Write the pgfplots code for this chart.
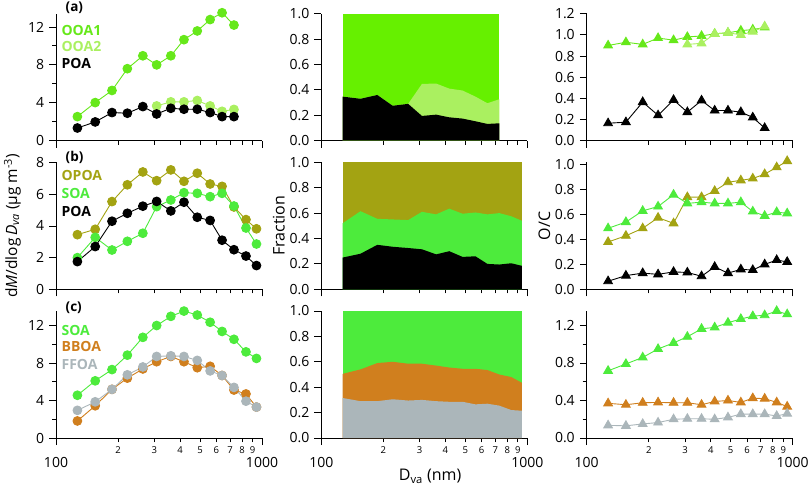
\documentclass[border=0pt]{standalone}
\usepackage{fontspec}
\setmainfont{Open Sans}
\usepackage{pgfplots}
\usepackage{pgfplotstable}
\pgfplotsset{compat=1.18}

\definecolor{ooaone}{HTML}{66E81A}
\definecolor{ooatwo}{HTML}{AAF060}
\definecolor{soa}{HTML}{4DEB3C}
\definecolor{opoa}{HTML}{A3A312}
\definecolor{bboa}{HTML}{D07F1E}
\definecolor{ffoa}{HTML}{ABB6BA}
\definecolor{fracone}{HTML}{66F000}

% panel (a)
\pgfplotstableread{
x OOA1 OOA2 POA
127 2.54 nan 1.34
155 4.02 nan 1.98
187 5.30 nan 2.97
222 7.60 nan 2.90
264 8.96 nan 3.60
308 8.00 3.67 2.82
361 8.96 4.10 3.42
418 10.66 4.10 3.32
485 11.58 4.24 3.32
560 12.78 3.67 2.97
640 13.50 3.10 2.54
731 12.20 3.30 2.54
}\ma
\pgfplotstableread{
x poa top
127 0.347 0.347
155 0.330 0.330
187 0.360 0.360
222 0.275 0.275
264 0.290 0.290
308 0.195 0.447
361 0.205 0.450
418 0.184 0.410
485 0.174 0.395
560 0.153 0.347
640 0.132 0.295
731 0.137 0.326
}\fa
\pgfplotstableread{
x OOA1 OOA2 POA
127 0.90 nan 0.165
155 0.93 nan 0.175
187 0.91 nan 0.365
222 0.97 nan 0.240
264 0.95 nan 0.385
308 0.98 0.91 0.270
361 0.99 0.92 0.380
418 1.01 1.01 0.285
485 1.02 1.02 0.285
560 1.04 1.00 0.270
640 1.05 1.03 0.220
731 1.07 1.08 0.120
}\oa

% panel (b)
\pgfplotstableread{
x OPOA SOA POA
127 3.45 2.00 1.75
155 3.79 3.28 2.70
187 5.54 2.48 4.30
222 6.60 3.03 4.80
264 7.41 3.54 5.25
308 6.86 5.22 5.55
361 7.54 5.64 4.95
418 6.82 6.10 5.50
485 7.33 6.06 4.55
560 6.65 5.85 4.35
640 6.50 6.06 3.10
731 5.20 5.26 2.50
836 4.40 3.87 2.10
940 3.82 2.86 1.50
}\mb
\pgfplotstableread{
x poa top
127 0.250 0.520
155 0.280 0.615
187 0.350 0.555
222 0.335 0.550
264 0.325 0.545
308 0.315 0.610
361 0.275 0.590
418 0.300 0.635
485 0.255 0.595
560 0.260 0.605
640 0.200 0.590
731 0.195 0.600
836 0.205 0.575
940 0.185 0.540
}\fb
\pgfplotstableread{
x OPOA SOA POA
127 0.380 0.490 0.065
155 0.430 0.540 0.110
187 0.490 0.630 0.130
222 0.575 0.665 0.120
264 0.530 0.760 0.140
308 0.740 0.690 0.135
361 0.740 0.700 0.105
418 0.790 0.690 0.180
485 0.860 0.690 0.130
560 0.875 0.700 0.160
640 0.890 0.625 0.155
731 0.925 0.590 0.200
836 0.980 0.620 0.235
940 1.030 0.610 0.220
}\ob

% panel (c)
\pgfplotstableread{
x SOA BBOA FFOA
127 4.56 1.82 2.95
155 6.10 3.44 3.86
187 7.30 5.19 5.19
222 8.84 6.39 6.74
264 10.74 7.37 7.58
308 12.00 8.14 8.70
361 12.98 8.70 8.77
418 13.54 8.14 8.70
485 13.12 7.50 8.28
560 12.35 7.65 7.16
640 11.37 6.67 6.67
731 10.53 5.12 5.40
836 9.19 4.70 3.93
940 8.49 3.30 3.30
}\mc
\pgfplotstableread{
x ffoa top
127 0.315 0.505
155 0.290 0.540
187 0.290 0.590
222 0.305 0.600
264 0.295 0.585
308 0.300 0.585
361 0.290 0.570
418 0.285 0.555
485 0.285 0.545
560 0.265 0.545
640 0.270 0.535
731 0.255 0.500
836 0.220 0.480
940 0.215 0.435
}\fc
\pgfplotstableread{
x SOA BBOA FFOA
127 0.717 0.370 0.135
155 0.790 0.355 0.130
187 0.860 0.376 0.150
222 0.950 0.380 0.165
264 1.015 0.376 0.200
308 1.080 0.376 0.205
361 1.165 0.355 0.205
418 1.180 0.390 0.200
485 1.230 0.400 0.220
560 1.270 0.380 0.255
640 1.300 0.425 0.255
731 1.310 0.420 0.255
836 1.355 0.380 0.235
940 1.320 0.335 0.260
}\oc

\pgfplotsset{
  myigor/.style={
    scale only axis, width=206pt, height=127pt,
    xmin=100, xmax=1000, ymin=0,
    axis x line*=bottom, axis y line*=left,
    axis line style={black, line width=0.9pt},
    tick align=outside,
    major tick length=7pt, minor tick length=4pt,
    tick style={black, line width=0.9pt},
    xtick={100,1000},
    minor xtick={200,300,400,500,600,700,800,900},
    xticklabels={,},
    tick label style={font=\fontsize{14}{16}\selectfont},
    yticklabel style={xshift=-1.5pt},
    clip=false,
    anchor=south west,
  },
  mybot/.style={
    xticklabels={100,1000},
    xticklabel style={yshift=-9pt},
    extra x ticks={200,300,400,500,600,700,800,900},
    extra x tick labels={2,3,4,5,6,7,8,9},
    extra x tick style={major tick length=4pt,
      xticklabel style={font=\fontsize{9.5}{11}\selectfont, yshift=8pt}},
  },
  myonedec/.style={yticklabel style={/pgf/number format/.cd, fixed, fixed zerofill, precision=1, assume math mode=true}},
  myser/.style={color=#1, line width=0.9pt, mark=*, mark size=4.4pt,
    mark options={fill=#1, draw=#1, solid}},
  mytri/.style={color=#1, line width=0.9pt, mark=triangle*, mark size=5pt,
    mark options={fill=#1, draw=#1, solid}},
}
\tikzset{
  mylab/.style={font=\bfseries\fontsize{13.5}{15}\selectfont, anchor=west},
  myleg/.style={font=\bfseries\fontsize{14}{16}\selectfont, anchor=west, text=#1},
}

\begin{document}
\begin{tikzpicture}
\useasboundingbox (0,0) rectangle (810pt,488pt);

% ---------- row a ----------
\begin{semilogxaxis}[myigor, at={(56pt,347.3pt)}, ymax=13.4, ytick={0,4,8,12}, minor ytick={2,6,10},
  yticklabel style={/pgf/number format/assume math mode=true}]
\addplot[myser=ooaone] table[x=x,y=OOA1]{\ma};
\addplot[myser=ooatwo] table[x=x,y=OOA2]{\ma};
\addplot[myser=black] table[x=x,y=POA]{\ma};
\node[mylab] at (axis description cs:0.03,1.047) {(a)};
\node[myleg=ooaone] at (axis description cs:0.01,0.866) {OOA1};
\node[myleg=ooatwo] at (axis description cs:0.01,0.740) {OOA2};
\node[myleg=black] at (axis description cs:0.01,0.605) {POA};
\end{semilogxaxis}

\begin{semilogxaxis}[myigor, myonedec, at={(321.3pt,347.3pt)}, ymax=1, ytick={0,0.2,0.4,0.6,0.8,1.0}]
\addplot[fill=fracone, draw=none] coordinates {(127,1) (731,1)} \closedcycle;
\addplot[fill=ooatwo, draw=none] table[x=x,y=top]{\fa} \closedcycle;
\addplot[fill=black, draw=none] table[x=x,y=poa]{\fa} \closedcycle;
\end{semilogxaxis}

\begin{semilogxaxis}[myigor, myonedec, at={(586.7pt,347.3pt)}, ymax=1.2, ytick={0,0.2,0.4,0.6,0.8,1.0,1.2}]
\addplot[mytri=ooaone] table[x=x,y=OOA1]{\oa};
\addplot[mytri=ooatwo] table[x=x,y=OOA2]{\oa};
\addplot[mytri=black] table[x=x,y=POA]{\oa};
\end{semilogxaxis}

% ---------- row b ----------
\begin{semilogxaxis}[myigor, at={(56pt,198.7pt)}, ymax=8.02, ytick={0,2,4,6,8},
  yticklabel style={/pgf/number format/assume math mode=true},
  ylabel={d\textit{M}/dlog\,\textit{D}\textsubscript{\textit{va}} (μg m\textsuperscript{-3})},
  ylabel style={at={(axis description cs:-0.212,0.5)}, anchor=center, font=\fontsize{15.5}{18}\selectfont}]
\addplot[myser=opoa] table[x=x,y=OPOA]{\mb};
\addplot[myser=soa] table[x=x,y=SOA]{\mb};
\addplot[myser=black] table[x=x,y=POA]{\mb};
\node[mylab] at (axis description cs:0.03,1.035) {(b)};
\node[myleg=opoa] at (axis description cs:0.01,0.90) {OPOA};
\node[myleg=soa] at (axis description cs:0.01,0.753) {SOA};
\node[myleg=black] at (axis description cs:0.01,0.616) {POA};
\end{semilogxaxis}

\begin{semilogxaxis}[myigor, myonedec, at={(321.3pt,198.7pt)}, ymax=1, ytick={0,0.2,0.4,0.6,0.8,1.0},
  ylabel={Fraction},
  ylabel style={at={(axis description cs:-0.206,0.5)}, anchor=center, font=\fontsize{16}{18}\selectfont}]
\addplot[fill=opoa, draw=none] coordinates {(127,1) (940,1)} \closedcycle;
\addplot[fill=soa, draw=none] table[x=x,y=top]{\fb} \closedcycle;
\addplot[fill=black, draw=none] table[x=x,y=poa]{\fb} \closedcycle;
\end{semilogxaxis}

\begin{semilogxaxis}[myigor, myonedec, at={(586.7pt,198.7pt)}, ymax=1.02, ytick={0,0.2,0.4,0.6,0.8,1.0},
  ylabel={O/C},
  ylabel style={at={(axis description cs:-0.205,0.5)}, anchor=center, font=\fontsize{16}{18}\selectfont}]
\addplot[mytri=opoa] table[x=x,y=OPOA]{\ob};
\addplot[mytri=soa] table[x=x,y=SOA]{\ob};
\addplot[mytri=black] table[x=x,y=POA]{\ob};
\end{semilogxaxis}

% ---------- row c ----------
\begin{semilogxaxis}[myigor, mybot, at={(56pt,50pt)}, ymax=13.55, ytick={0,4,8,12}, minor ytick={2,6,10},
  yticklabel style={/pgf/number format/assume math mode=true}]
\addplot[myser=soa] table[x=x,y=SOA]{\mc};
\addplot[myser=bboa] table[x=x,y=BBOA]{\mc};
\addplot[myser=ffoa] table[x=x,y=FFOA]{\mc};
\node[mylab] at (axis description cs:0.03,1.027) {(c)};
\node[myleg=soa] at (axis description cs:0.01,0.848) {SOA};
\node[myleg=bboa] at (axis description cs:0.01,0.717) {BBOA};
\node[myleg=ffoa] at (axis description cs:0.01,0.581) {FFOA};
\end{semilogxaxis}

\begin{semilogxaxis}[myigor, mybot, myonedec, at={(321.3pt,50pt)}, ymax=1, ytick={0,0.2,0.4,0.6,0.8,1.0},
  xlabel={D\textsubscript{va} (nm)},
  xlabel style={at={(axis description cs:0.528,-0.304)}, anchor=center, font=\fontsize{16}{18}\selectfont}]
\addplot[fill=soa, draw=none] coordinates {(127,1) (940,1)} \closedcycle;
\addplot[fill=bboa, draw=none] table[x=x,y=top]{\fc} \closedcycle;
\addplot[fill=ffoa, draw=none] table[x=x,y=ffoa]{\fc} \closedcycle;
\end{semilogxaxis}

\begin{semilogxaxis}[myigor, mybot, myonedec, at={(586.7pt,50pt)}, ymax=1.355, ytick={0,0.4,0.8,1.2}, minor ytick={0.2,0.6,1.0}]
\addplot[mytri=soa] table[x=x,y=SOA]{\oc};
\addplot[mytri=bboa] table[x=x,y=BBOA]{\oc};
\addplot[mytri=ffoa] table[x=x,y=FFOA]{\oc};
\end{semilogxaxis}
\end{tikzpicture}
\end{document}
